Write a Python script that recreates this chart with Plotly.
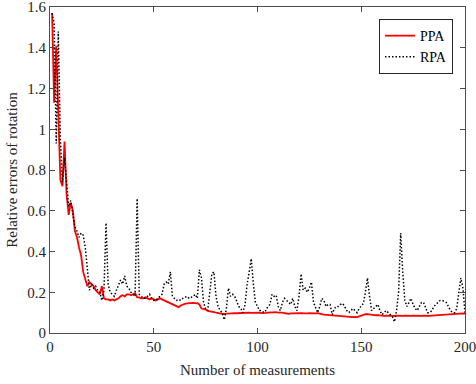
import plotly.graph_objects as go

x_vals = list(range(1, 201))

ppa = [
    1.57, 1.13, 1.41, 1.05, 0.75, 0.72, 0.94, 0.68, 0.58, 0.64,
    0.60, 0.50, 0.47, 0.42, 0.38, 0.30, 0.26, 0.23, 0.25, 0.24,
    0.23, 0.21, 0.20, 0.19, 0.23, 0.17, 0.165, 0.165, 0.16, 0.165,
    0.16, 0.165, 0.17, 0.18, 0.185, 0.18, 0.19, 0.19, 0.185, 0.19,
    0.195, 0.175, 0.175, 0.17, 0.17, 0.175, 0.17, 0.165, 0.17, 0.165,
    0.16, 0.165, 0.17, 0.165, 0.16, 0.155, 0.15, 0.146, 0.14, 0.135,
    0.13, 0.127, 0.135, 0.14, 0.143, 0.145, 0.147, 0.146, 0.148, 0.147,
    0.146, 0.14, 0.12, 0.118, 0.115, 0.108, 0.107, 0.105, 0.103, 0.10,
    0.097, 0.095, 0.094, 0.094, 0.095, 0.097, 0.096, 0.097, 0.098, 0.097,
    0.098, 0.099, 0.10, 0.099, 0.10, 0.10, 0.099, 0.10, 0.101, 0.10,
    0.10, 0.098, 0.097, 0.099, 0.10, 0.101, 0.10, 0.103, 0.102, 0.10,
    0.101, 0.10, 0.098, 0.096, 0.094, 0.096, 0.097, 0.095, 0.097, 0.099,
    0.098, 0.097, 0.095, 0.096, 0.097, 0.096, 0.095, 0.096, 0.097, 0.096,
    0.093, 0.09, 0.089, 0.088, 0.087, 0.086, 0.085, 0.086, 0.085, 0.084,
    0.083, 0.082, 0.081, 0.08, 0.079, 0.078, 0.079, 0.078, 0.082, 0.086,
    0.09, 0.092, 0.093, 0.091, 0.089, 0.088, 0.087, 0.088, 0.086, 0.085,
    0.084, 0.085, 0.084, 0.083, 0.083, 0.084, 0.085, 0.084, 0.083, 0.084,
    0.085, 0.084, 0.083, 0.084, 0.085, 0.084, 0.083, 0.083, 0.084, 0.085,
    0.084, 0.083, 0.084, 0.085, 0.086, 0.086, 0.087, 0.088, 0.089, 0.09,
    0.091, 0.092, 0.093, 0.093, 0.094, 0.095, 0.095, 0.096, 0.096, 0.095,
]

rpa = [
    1.57, 1.52, 0.93, 1.48, 0.95, 0.74, 0.86, 0.72, 0.62, 0.65,
    0.58, 0.52, 0.50, 0.47, 0.49, 0.48, 0.42, 0.30, 0.21, 0.24,
    0.22, 0.23, 0.21, 0.20, 0.16, 0.21, 0.54, 0.24, 0.20, 0.19,
    0.18, 0.21, 0.24, 0.26, 0.24, 0.28, 0.23, 0.22, 0.20, 0.19,
    0.18, 0.66, 0.19, 0.18, 0.17, 0.17, 0.18, 0.19, 0.17, 0.16,
    0.16, 0.17, 0.175, 0.19, 0.24, 0.25, 0.24, 0.30, 0.18, 0.17,
    0.16, 0.165, 0.16, 0.17, 0.175, 0.18, 0.17, 0.175, 0.18, 0.19,
    0.17, 0.31, 0.27, 0.15, 0.12, 0.11, 0.20, 0.29, 0.30, 0.18,
    0.13, 0.11, 0.10, 0.065, 0.12, 0.22, 0.18, 0.19, 0.18, 0.15,
    0.13, 0.12, 0.10, 0.14, 0.24, 0.30, 0.365, 0.24, 0.15, 0.13,
    0.11, 0.11, 0.10, 0.11, 0.13, 0.14, 0.19, 0.18, 0.185, 0.13,
    0.11, 0.15, 0.17, 0.16, 0.15, 0.14, 0.17, 0.13, 0.11, 0.18,
    0.29, 0.21, 0.22, 0.20, 0.22, 0.25, 0.15, 0.12, 0.10, 0.13,
    0.17, 0.16, 0.13, 0.14, 0.14, 0.09, 0.12, 0.13, 0.13, 0.14,
    0.145, 0.13, 0.11, 0.10, 0.11, 0.12, 0.11, 0.10, 0.12, 0.13,
    0.145, 0.20, 0.27, 0.18, 0.11, 0.12, 0.13, 0.14, 0.11, 0.09,
    0.10, 0.11, 0.10, 0.09, 0.08, 0.055, 0.11, 0.20, 0.49, 0.30,
    0.16, 0.13, 0.15, 0.17, 0.14, 0.12, 0.11, 0.13, 0.15, 0.15,
    0.12, 0.10, 0.10, 0.11, 0.13, 0.14, 0.15, 0.16, 0.16, 0.155,
    0.15, 0.13, 0.11, 0.10, 0.10, 0.12, 0.20, 0.27, 0.22, 0.10,
]

x_ticks = [0, 50, 100, 150, 200]
y_ticks = [0, 0.2, 0.4, 0.6, 0.8, 1.0, 1.2, 1.4, 1.6]
y_tick_labels = ["0", "0.2", "0.4", "0.6", "0.8", "1", "1.2", "1.4", "1.6"]

font_family = "Liberation Serif, Times New Roman, serif"
axis_color = "#4d4d4d"

fig = go.Figure()
fig.add_trace(go.Scatter(x=x_vals, y=ppa, mode="lines", name="PPA",
                         line=dict(color="#ff0000", width=1.8)))
fig.add_trace(go.Scatter(x=x_vals, y=rpa, mode="lines", name="RPA",
                         line=dict(color="#000000", width=1.5, dash="1.5px,2px")))

axis_common = dict(showgrid=False, zeroline=False, showline=True, mirror="ticks",
                   linecolor=axis_color, linewidth=1, ticks="inside", ticklen=5,
                   tickcolor=axis_color, automargin=False, ticklabeloverflow="allow",
                   tickfont=dict(family=font_family, size=15, color="#262626"))

fig.update_layout(
    width=476, height=384,
    margin=dict(l=50, r=11, t=7, b=51),
    paper_bgcolor="white", plot_bgcolor="white",
    font=dict(family=font_family, size=15, color="#262626"),
    xaxis=dict(range=[0, 200], tickvals=x_ticks,
               title=dict(text="Number of measurements", standoff=10,
                          font=dict(family=font_family, size=15, color="#262626")),
               **axis_common),
    yaxis=dict(range=[0, 1.6], tickvals=y_ticks, ticktext=y_tick_labels,
               title=dict(text="Relative errors of rotation", standoff=6,
                          font=dict(family=font_family, size=15, color="#262626")),
               **axis_common),
    legend=dict(x=0.971, y=0.963, xanchor="right", yanchor="top",
                bgcolor="white", bordercolor="#262626", borderwidth=1,
                font=dict(family=font_family, size=14, color="#000000"),
                tracegroupgap=0, itemwidth=30),
    showlegend=True,
)

fig.write_html("out.html", config={"displayModeBar": False},
               post_script="document.body.style.margin='0px';document.body.style.overflow='hidden';")
